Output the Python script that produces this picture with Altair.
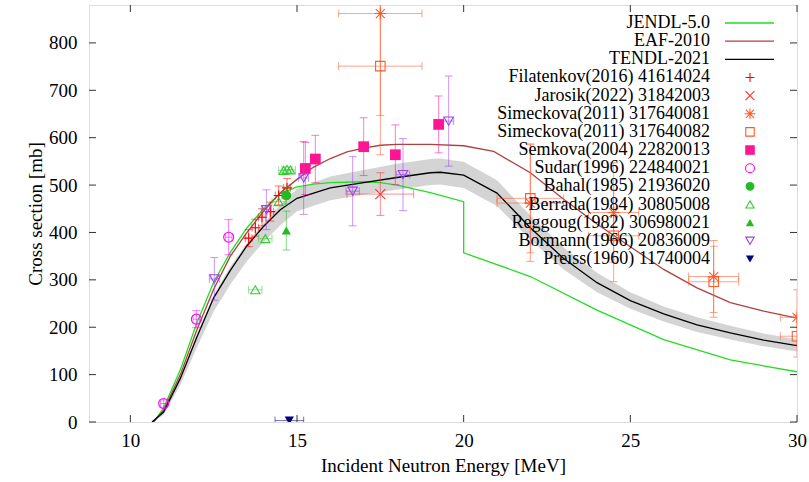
import altair as alt
import pandas as pd

# ---------------------------------------------------------------------------
# Evaluated cross sections (energy in MeV, cross section in mb)
# ---------------------------------------------------------------------------
jendl_e = [10.7, 11.0, 11.5, 12.0, 12.5, 13.0, 13.5, 14.0, 14.5, 15.0, 15.5, 16.0,
           17.0, 17.5, 18.0, 19.0, 20.0, 20.0, 22.0, 24.0, 26.0, 28.0, 30.0]
jendl_xs = [0, 30, 110, 210, 295, 358, 410, 450, 482, 496, 502, 505,
            507, 505, 500, 484, 465, 357, 307, 236, 174, 131, 106]

eaf_e = [10.7, 11.0, 11.5, 12.0, 12.5, 13.0, 13.5, 14.0, 14.5, 15.0, 15.5, 16.0, 16.5,
         17.0, 17.5, 18.0, 19.0, 20.0, 20.9, 22.0, 23.0, 24.0, 25.0, 26.0, 27.0, 28.0,
         29.0, 30.0]
eaf_xs = [0, 25, 100, 195, 280, 350, 400, 445, 484, 512, 538, 556, 570,
          578, 584, 586, 586, 583, 571, 526, 470, 418, 370, 322, 283, 252,
          234, 219]

tendl_e = [10.65, 11.0, 11.5, 12.0, 12.5, 13.0, 13.5, 14.0, 14.5, 15.0, 16.0, 17.0, 18.0,
           19.0, 19.3, 20.0, 21.0, 22.0, 23.0, 24.0, 25.0, 26.0, 27.0, 28.0, 29.0, 30.0]
tendl_xs = [0, 21, 92, 180, 262, 320, 372, 413, 448, 472, 494, 505, 516,
            526, 527, 521, 483, 410, 345, 294, 256, 228, 205, 188, 173, 161]
tendl_lo = [0, 15, 78, 158, 233, 290, 340, 380, 415, 445, 468, 480, 490,
            500, 501, 494, 456, 385, 322, 274, 239, 212, 190, 174, 160, 149]
tendl_hi = [0, 23, 96, 186, 268, 328, 378, 420, 458, 492, 518, 532, 545,
            555, 556, 549, 510, 436, 368, 315, 274, 244, 221, 203, 187, 174]

# ---------------------------------------------------------------------------
# Experimental data: energy, cross section, cross-section error, energy error
# ---------------------------------------------------------------------------
fila_e = [13.55, 13.75, 13.95, 14.2, 14.45, 14.7]
fila_xs = [388, 410, 432, 444, 478, 494]
fila_dxs = [18, 18, 18, 20, 20, 20]
fila_de = [0.1, 0.1, 0.1, 0.1, 0.1, 0.1]

jaro_e = [17.5]
jaro_xs = [481]
jaro_dxs = [45]
jaro_de = [1.0]

sim81_e = [17.5, 22.0, 24.5, 27.5, 30.0]
sim81_xs = [862, 462, 442, 307, 221]
sim81_dxs = [215, 123, 105, 76, 58]
sim81_de = [1.25, 1.0, 0.75, 0.75, 0.5]

sim82_e = [17.5, 22.0, 24.5, 27.5, 30.0]
sim82_xs = [751, 472, 393, 296, 181]
sim82_dxs = [187, 115, 97, 75, 44]
sim82_de = [1.25, 1.0, 0.75, 0.75, 0.5]

semk_e = [15.25, 15.55, 17.0, 17.95, 19.25]
semk_xs = [535, 555, 581, 564, 628]
semk_dxs = [55, 50, 61, 63, 60]
semk_de = [0, 0, 0, 0, 0]

sudar_e = [11.0, 11.98, 12.95]
sudar_xs = [39, 217, 390]
sudar_dxs = [8, 18, 37]
sudar_de = [0.1, 0.1, 0.1]

bahal_e = [14.68]
bahal_xs = [478]
bahal_dxs = [18]
bahal_de = [0]

berr_e = [13.75, 14.05, 14.45, 14.6, 14.7, 14.8]
berr_xs = [279, 387, 465, 531, 533, 532]
berr_dxs = [0, 0, 0, 0, 0, 0]
berr_de = [0.2, 0.2, 0.2, 0.15, 0.15, 0.15]

regg_e = [14.68]
regg_xs = [404]
regg_dxs = [41]
regg_de = [0]

borm_e = [12.52, 14.08, 15.2, 16.67, 18.18, 19.55]
borm_xs = [302, 448, 515, 487, 522, 635]
borm_dxs = [45, 42, 77, 73, 76, 95]
borm_de = [0.15, 0.15, 0.15, 0.2, 0.2, 0.15]

preiss_e = [14.77]
preiss_xs = [3]
preiss_dxs = [0]
preiss_de = [0.43]

x_ticks = [10, 15, 20, 25, 30]
y_ticks = [0, 100, 200, 300, 400, 500, 600, 700, 800]

# ---------------------------------------------------------------------------
# Styling
# ---------------------------------------------------------------------------
FONT = "Liberation Serif"
W, H = 708, 417

PLUS = "M-1,0L1,0M0,-1L0,1"
CROSS = "M-1,-1L1,1M-1,1L1,-1"
STAR = "M-1,0L1,0M0,-1L0,1M-0.75,-0.75L0.75,0.75M-0.75,0.75L0.75,-0.75"
HCAP = "M-1,0L1,0"
VCAP = "M0,-1L0,1"

xscale = alt.Scale(domain=[8.76, 30], nice=False, zero=False)
yscale = alt.Scale(domain=[0, 880], nice=False, zero=False)

xaxis = alt.Axis(values=x_ticks, title="Incident Neutron Energy [MeV]", ticks=False,
                 domain=False, grid=False, labelFont=FONT, labelFontSize=19,
                 labelColor="black", labelPadding=9, labelFlush=False,
                 titleFont=FONT, titleFontSize=19, titleFontWeight="normal",
                 titleColor="black", titlePadding=6)
yaxis = alt.Axis(values=y_ticks, title="Cross section [mb]", ticks=False,
                 domain=False, grid=False, labelFont=FONT, labelFontSize=19,
                 labelColor="black", labelPadding=12, labelFlush=False,
                 titleFont=FONT, titleFontSize=19, titleFontWeight="normal",
                 titleColor="black", titlePadding=3)


def X(field):
    return alt.X(field, type="quantitative", scale=xscale, axis=xaxis)


def Y(field):
    return alt.Y(field, type="quantitative", scale=yscale, axis=yaxis)


layers = []

# Uncertainty band and evaluated curves
tendl_df = pd.DataFrame({"e": tendl_e, "xs": tendl_xs, "lo": tendl_lo, "hi": tendl_hi})
layers.append(alt.Chart(tendl_df).mark_area(color="#d4d4d4", clip=True)
              .encode(x=X("e"), y=Y("lo"), y2=alt.Y2("hi")))

curves = [
    ("JENDL-5.0", jendl_e, jendl_xs, "#22dd22"),
    ("EAF-2010", eaf_e, eaf_xs, "#b04040"),
    ("TENDL-2021", tendl_e, tendl_xs, "#000000"),
]
for name, e, xs, color in curves:
    df = pd.DataFrame({"e": e, "xs": xs, "i": list(range(len(e)))})
    layers.append(alt.Chart(df).mark_line(color=color, strokeWidth=1.3, clip=True)
                  .encode(x=X("e"), y=Y("xs"), order=alt.Order("i:Q")))

# Experimental data sets
datasets = [
    ("Filatenkov(2016) 41614024", fila_e, fila_xs, fila_dxs, fila_de),
    ("Jarosik(2022) 31842003", jaro_e, jaro_xs, jaro_dxs, jaro_de),
    ("Simeckova(2011) 317640081", sim81_e, sim81_xs, sim81_dxs, sim81_de),
    ("Simeckova(2011) 317640082", sim82_e, sim82_xs, sim82_dxs, sim82_de),
    ("Semkova(2004) 22820013", semk_e, semk_xs, semk_dxs, semk_de),
    ("Sudar(1996) 224840021", sudar_e, sudar_xs, sudar_dxs, sudar_de),
    ("Bahal(1985) 21936020", bahal_e, bahal_xs, bahal_dxs, bahal_de),
    ("Berrada(1984) 30805008", berr_e, berr_xs, berr_dxs, berr_de),
    ("Reggoug(1982) 306980021", regg_e, regg_xs, regg_dxs, regg_de),
    ("Bormann(1966) 20836009", borm_e, borm_xs, borm_dxs, borm_de),
    ("Preiss(1960) 11740004", preiss_e, preiss_xs, preiss_dxs, preiss_de),
]

# marker look per data set: color, shape, filled, size
styles = {
    "Filatenkov(2016) 41614024": ("#ff0000", PLUS, False, 100),
    "Jarosik(2022) 31842003": ("#ff3030", CROSS, False, 100),
    "Simeckova(2011) 317640081": ("#ff5a28", STAR, False, 144),
    "Simeckova(2011) 317640082": ("#ff5a28", "square", False, 90),
    "Semkova(2004) 22820013": ("#ff1493", "square", True, 115),
    "Sudar(1996) 224840021": ("#ff00ff", "circle", False, 100),
    "Bahal(1985) 21936020": ("#22bb22", "circle", True, 95),
    "Berrada(1984) 30805008": ("#33cc33", "triangle-up", False, 85),
    "Reggoug(1982) 306980021": ("#22bb22", "triangle-up", True, 85),
    "Bormann(1966) 20836009": ("#a040f0", "triangle-down", False, 90),
    "Preiss(1960) 11740004": ("#000080", "triangle-down", True, 85),
}

for name, e, xs, dxs, de in datasets:
    color, shape, filled, size = styles[name]
    df = pd.DataFrame({"e": e, "xs": xs, "dxs": dxs, "de": de})
    df["lo"] = df["xs"] - df["dxs"]
    df["hi"] = df["xs"] + df["dxs"]
    df["elo"] = df["e"] - df["de"]
    df["ehi"] = df["e"] + df["de"]

    vdf = df[df["dxs"] > 0]
    if len(vdf):
        layers.append(alt.Chart(vdf).mark_rule(color=color, opacity=0.55, strokeWidth=1, clip=True)
                      .encode(x=X("e"), y=Y("lo"), y2=alt.Y2("hi")))
        layers.append(alt.Chart(vdf).transform_fold(["lo", "hi"], as_=["k", "yv"])
                      .mark_point(shape=HCAP, size=64, filled=False, color=color,
                                  opacity=0.55, strokeWidth=1, clip=True)
                      .encode(x=X("e"), y=Y("yv:Q")))
    hdf = df[df["de"] > 0]
    if len(hdf):
        layers.append(alt.Chart(hdf).mark_rule(color=color, opacity=0.55, strokeWidth=1, clip=True)
                      .encode(x=X("elo"), x2=alt.X2("ehi"), y=Y("xs")))
        layers.append(alt.Chart(hdf).transform_fold(["elo", "ehi"], as_=["k", "ev"])
                      .mark_point(shape=VCAP, size=64, filled=False, color=color,
                                  opacity=0.55, strokeWidth=1, clip=True)
                      .encode(x=X("ev:Q"), y=Y("xs")))
    layers.append(alt.Chart(df).mark_point(shape=shape, size=size, filled=filled, color=color,
                                           opacity=1, strokeWidth=1.1, clip=True)
                  .encode(x=X("e"), y=Y("xs")))

# Inward tick marks on all four sides of the frame
xt = pd.DataFrame({"v": x_ticks})
yt = pd.DataFrame({"v": y_ticks})
TL = 7
layers.append(alt.Chart(xt).mark_rule(color="#333333", strokeWidth=1)
              .encode(x=X("v"), y=alt.value(H), y2=alt.value(H - TL)))
layers.append(alt.Chart(xt).mark_rule(color="#333333", strokeWidth=1)
              .encode(x=X("v"), y=alt.value(0), y2=alt.value(TL)))
layers.append(alt.Chart(yt).mark_rule(color="#333333", strokeWidth=1)
              .encode(y=Y("v"), x=alt.value(0), x2=alt.value(TL)))
layers.append(alt.Chart(yt).mark_rule(color="#333333", strokeWidth=1)
              .encode(y=Y("v"), x=alt.value(W), x2=alt.value(W - TL)))

# Key in the upper right corner: label, then line sample or marker
KEY_TEXT_X = 621
KEY_SAMPLE_X0, KEY_SAMPLE_X1 = 636, 685
KEY_MARK_X = 661
one = pd.DataFrame({"k": [0]})


def key_y(i):
    return 18 + 18.15 * i


row = 0
for name, _, _, color in curves:
    layers.append(alt.Chart(one).mark_text(align="right", baseline="middle", font=FONT,
                                           fontSize=18, color="black")
                  .encode(x=alt.value(KEY_TEXT_X), y=alt.value(key_y(row)), text=alt.value(name)))
    layers.append(alt.Chart(one).mark_rule(color=color, strokeWidth=1.3)
                  .encode(x=alt.value(KEY_SAMPLE_X0), x2=alt.value(KEY_SAMPLE_X1),
                          y=alt.value(key_y(row))))
    row += 1

for name, *_ in datasets:
    color, shape, filled, size = styles[name]
    layers.append(alt.Chart(one).mark_text(align="right", baseline="middle", font=FONT,
                                           fontSize=18, color="black")
                  .encode(x=alt.value(KEY_TEXT_X), y=alt.value(key_y(row)), text=alt.value(name)))
    layers.append(alt.Chart(one).mark_point(shape=shape, size=size * 0.8, filled=filled,
                                            color=color, opacity=1, strokeWidth=1.1)
                  .encode(x=alt.value(KEY_MARK_X), y=alt.value(key_y(row))))
    row += 1

chart = (
    alt.layer(*layers)
    .properties(width=W, height=H,
                padding={"left": 89, "top": 5, "right": 12, "bottom": 60},
                autosize=alt.AutoSizeParams(type="none"))
    .configure_view(stroke="#333333", strokeWidth=1.4)
    .configure(background="white")
)

chart.save("out.html", embed_options={"renderer": "svg", "actions": False})
